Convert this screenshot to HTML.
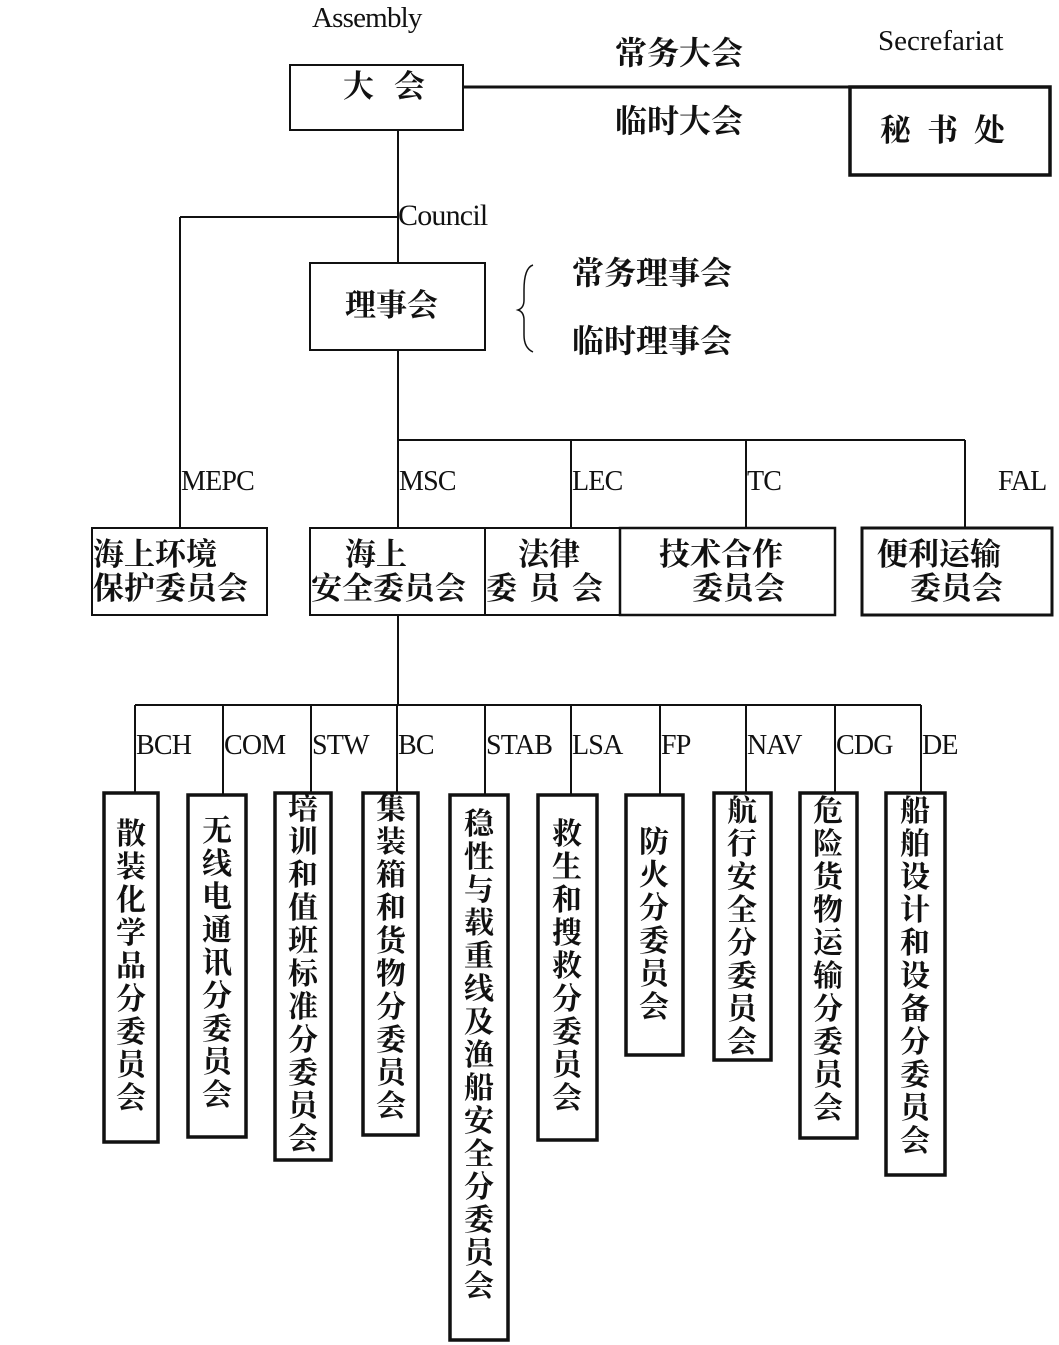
<!DOCTYPE html>
<html><head><meta charset="utf-8"><style>
body{margin:0;background:#fff;width:1059px;height:1345px;position:relative;overflow:hidden;font-family:"Liberation Serif","Noto Serif CJK SC","Noto Sans CJK SC",serif;color:#111}
.t{position:absolute;white-space:nowrap;line-height:1}
.cn{font-size:31px;font-weight:bold}
.en{font-size:28px;letter-spacing:-0.8px}
.v{position:absolute;font-size:30px;font-weight:bold;line-height:33px;width:30px;text-align:center;white-space:normal;word-break:break-all}
</style></head><body>
<svg width="1059" height="1345" style="position:absolute;left:0;top:0" fill="none" stroke="#111">
<rect x="290" y="65" width="173" height="65" stroke-width="2"/>
<line x1="463" y1="87" x2="850" y2="87" stroke-width="3"/>
<rect x="850" y="87" width="200" height="88" stroke-width="3.5"/>
<line x1="398" y1="130" x2="398" y2="263" stroke-width="2"/>
<line x1="180" y1="217" x2="398" y2="217" stroke-width="2"/>
<line x1="180" y1="217" x2="180" y2="528" stroke-width="2"/>
<rect x="310" y="263" width="175" height="87" stroke-width="2"/>
<path d="M533 265 Q524 268 524 290 L524 300 Q524 308 518 310 Q524 312 524 320 L524 335 Q524 348 533 352" stroke-width="1.5"/>
<line x1="398" y1="350" x2="398" y2="528" stroke-width="2"/>
<line x1="398" y1="440" x2="965" y2="440" stroke-width="2"/>
<line x1="571" y1="440" x2="571" y2="528" stroke-width="2"/>
<line x1="746" y1="440" x2="746" y2="528" stroke-width="2"/>
<line x1="965" y1="440" x2="965" y2="528" stroke-width="2"/>
<rect x="92" y="528" width="175" height="87" stroke-width="2"/>
<rect x="310" y="528" width="175" height="87" stroke-width="2"/>
<rect x="485" y="528" width="135" height="87" stroke-width="2"/>
<rect x="620" y="528" width="215" height="87" stroke-width="2.5"/>
<rect x="862" y="528" width="190" height="87" stroke-width="3"/>
<line x1="398" y1="615" x2="398" y2="705" stroke-width="2"/>
<line x1="135" y1="705" x2="921" y2="705" stroke-width="2"/>
<g stroke-width="2">
<line x1="135" y1="705" x2="135" y2="793"/><line x1="223" y1="705" x2="223" y2="795"/>
<line x1="311" y1="705" x2="311" y2="793"/><line x1="397" y1="705" x2="397" y2="793"/>
<line x1="485" y1="705" x2="485" y2="795"/><line x1="571" y1="705" x2="571" y2="795"/>
<line x1="660" y1="705" x2="660" y2="795"/><line x1="746" y1="705" x2="746" y2="793"/>
<line x1="835" y1="705" x2="835" y2="793"/><line x1="921" y1="705" x2="921" y2="793"/>
</g>
<g stroke-width="3.5">
<rect x="104" y="793" width="54" height="349"/>
<rect x="188" y="795" width="58" height="342"/>
<rect x="275" y="793" width="56" height="367"/>
<rect x="363" y="793" width="55" height="342"/>
<rect x="450" y="795" width="58" height="545"/>
<rect x="538" y="795" width="59" height="345"/>
<rect x="626" y="795" width="57" height="260"/>
<rect x="714" y="793" width="57" height="267"/>
<rect x="800" y="793" width="57" height="345"/>
<rect x="886" y="793" width="59" height="382"/>
</g>
</svg>
<div class="t en" style="left:312px;top:4px;font-size:29px">Assembly</div>
<div class="t en" style="left:878px;top:27px;font-size:29px;letter-spacing:0">Secrefariat</div>
<div class="t cn" style="left:615px;top:37px;font-size:32px">常务大会</div>
<div class="t cn" style="left:615px;top:105px;font-size:32px">临时大会</div>
<div class="t cn" style="left:343px;top:71px;letter-spacing:20px">大会</div>
<div class="t cn" style="left:880px;top:115px;letter-spacing:16px">秘书处</div>
<div class="t en" style="left:398px;top:201px;font-size:30px">Council</div>
<div class="t cn" style="left:345px;top:290px">理事会</div>
<div class="t cn" style="left:572px;top:257px;font-size:32px">常务理事会</div>
<div class="t cn" style="left:572px;top:325px;font-size:32px">临时理事会</div>
<div class="t en" style="left:181px;top:468px">MEPC</div>
<div class="t en" style="left:399px;top:468px">MSC</div>
<div class="t en" style="left:572px;top:468px">LEC</div>
<div class="t en" style="left:747px;top:468px">TC</div>
<div class="t en" style="left:998px;top:468px">FAL</div>
<div class="t cn" style="left:93px;top:539px">海上环境</div>
<div class="t cn" style="left:93px;top:573px">保护委员会</div>
<div class="t cn" style="left:345px;top:539px">海上</div>
<div class="t cn" style="left:311px;top:573px">安全委员会</div>
<div class="t cn" style="left:518px;top:539px">法律</div>
<div class="t cn" style="left:486px;top:573px;letter-spacing:12px">委员会</div>
<div class="t cn" style="left:659px;top:539px">技术合作</div>
<div class="t cn" style="left:692px;top:573px">委员会</div>
<div class="t cn" style="left:877px;top:539px">便利运输</div>
<div class="t cn" style="left:910px;top:573px">委员会</div>
<div class="t en" style="left:136px;top:732px">BCH</div>
<div class="t en" style="left:224px;top:732px">COM</div>
<div class="t en" style="left:312px;top:732px">STW</div>
<div class="t en" style="left:398px;top:732px">BC</div>
<div class="t en" style="left:486px;top:732px">STAB</div>
<div class="t en" style="left:572px;top:732px">LSA</div>
<div class="t en" style="left:661px;top:732px">FP</div>
<div class="t en" style="left:747px;top:732px">NAV</div>
<div class="t en" style="left:836px;top:732px">CDG</div>
<div class="t en" style="left:922px;top:732px">DE</div>
<div class="v" style="left:116px;top:818px">散装化学品分委员会</div>
<div class="v" style="left:202px;top:815px">无线电通讯分委员会</div>
<div class="v" style="left:288px;top:793px">培训和值班标准分委员会</div>
<div class="v" style="left:376px;top:793px">集装箱和货物分委员会</div>
<div class="v" style="left:464px;top:808px">稳性与载重线及渔船安全分委员会</div>
<div class="v" style="left:552px;top:818px">救生和搜救分委员会</div>
<div class="v" style="left:639px;top:826px">防火分委员会</div>
<div class="v" style="left:727px;top:795px">航行安全分委员会</div>
<div class="v" style="left:813px;top:795px">危险货物运输分委员会</div>
<div class="v" style="left:900px;top:795px">船舶设计和设备分委员会</div>
</body></html>
